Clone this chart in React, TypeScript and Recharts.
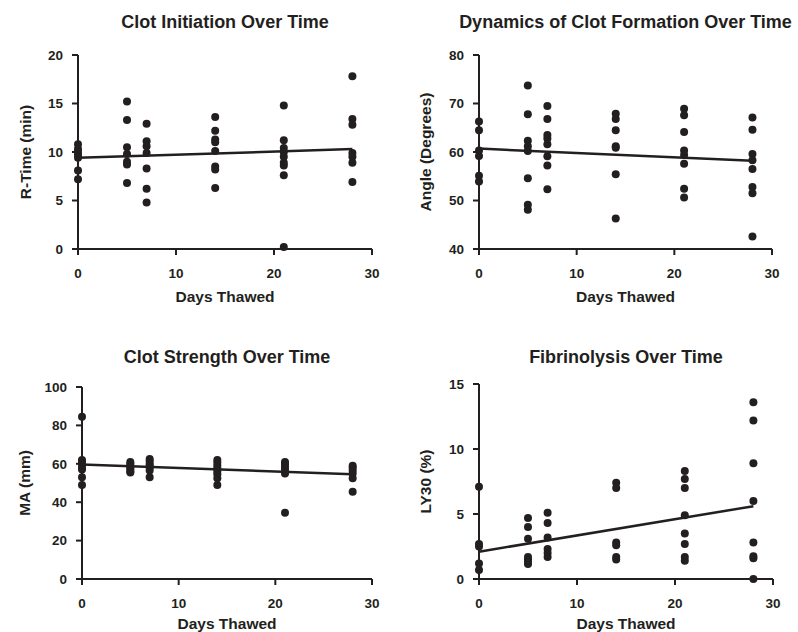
import React from 'react';
import { ScatterChart, Scatter, XAxis, YAxis, ReferenceLine, Label } from 'recharts';

const days = [0, 5, 7, 14, 21, 28];
const xTicks = [0, 10, 20, 30];

const rTimeValues = [
  [10.8, 10.3, 10.0, 9.7, 9.4, 8.1, 7.2],
  [15.2, 13.3, 10.5, 9.8, 9.0, 8.7, 6.8],
  [12.9, 11.1, 10.6, 9.9, 8.3, 6.2, 4.8],
  [13.6, 12.2, 11.3, 11.0, 10.1, 8.5, 8.2, 6.3],
  [14.8, 11.2, 10.4, 10.0, 9.5, 8.9, 8.6, 7.6, 0.2],
  [17.8, 13.4, 12.8, 9.9, 9.5, 8.9, 6.9],
];
const rTimeFit = [9.4, 10.3];
const rTimeTicks = [0, 5, 10, 15, 20];

const angleValues = [
  [66.3, 64.5, 60.3, 59.2, 55.1, 53.9],
  [73.7, 67.8, 62.3, 61.2, 60.2, 54.6, 49.1, 48.1],
  [69.5, 66.8, 63.5, 62.8, 61.6, 59.1, 57.2, 52.3],
  [67.9, 66.8, 64.5, 61.2, 60.9, 55.4, 46.3],
  [68.9, 67.6, 64.1, 60.3, 59.4, 57.6, 52.4, 50.6],
  [67.1, 64.6, 59.6, 58.3, 56.5, 52.8, 51.5, 42.6],
];
const angleFit = [60.7, 58.2];
const angleTicks = [40, 50, 60, 70, 80];

const maValues = [
  [84.5, 62, 61, 59.5, 58, 57, 53, 49],
  [61, 60, 59, 58, 57, 56, 55.5],
  [62.5, 61.5, 60, 59, 58, 56.5, 53],
  [62, 60.5, 59, 57.5, 56, 54.5, 52.5, 49],
  [61, 60, 59, 57.5, 56, 55, 34.5],
  [59, 58, 56.5, 55, 52.5, 45.5],
];
const maFit = [59.7, 54.5];
const maTicks = [0, 20, 40, 60, 80, 100];

const ly30Values = [
  [7.1, 2.7, 2.5, 1.2, 0.7],
  [4.7, 4.0, 3.1, 1.7, 1.5, 1.3, 1.15],
  [5.1, 4.3, 3.2, 2.3, 2.0, 1.7],
  [7.4, 7.0, 2.8, 2.6, 1.7, 1.5],
  [8.3, 7.7, 7.0, 4.9, 3.5, 2.7, 1.7, 1.4],
  [13.6, 12.2, 8.9, 6.0, 2.8, 1.75, 1.6, 0],
];
const ly30Fit = [2.1, 5.6];
const ly30Ticks = [0, 5, 10, 15];

const fitDays = [0, 28];

const INK = '#231f20';
const FONT = '"Liberation Sans", Arial, Helvetica, sans-serif';

function toPoints(values: number[][]) {
  const pts: { x: number; y: number }[] = [];
  values.forEach((vals, i) => vals.forEach((v) => pts.push({ x: days[i], y: v })));
  return pts;
}

const Dot = (props: any) => {
  const { cx, cy } = props;
  if (cx == null || cy == null) return null;
  return <circle cx={cx} cy={cy} r={4} fill={INK} />;
};

type PanelProps = {
  left: number;
  top: number;
  width: number;
  height: number;
  margin: { top: number; right: number; bottom: number; left: number };
  xAxisHeight: number;
  yLabelOffset: number;
  values: number[][];
  fit: number[];
  yTicks: number[];
  yLabel: string;
  title: string;
  titleY: number;
};

function Panel(p: PanelProps) {
  const data = toPoints(p.values);
  const yDomain = [p.yTicks[0], p.yTicks[p.yTicks.length - 1]];
  const tickStyle = { fill: INK, fontSize: 13.5, fontWeight: 700, fontFamily: FONT };
  const plotLeft = p.margin.left + 60;
  const plotRight = p.width - p.margin.right;
  return (
    <div style={{ position: 'absolute', left: p.left, top: p.top, width: p.width, height: p.height }}>
      <ScatterChart width={p.width} height={p.height} margin={p.margin}>
        <XAxis
          type="number"
          dataKey="x"
          domain={[0, 30]}
          ticks={xTicks}
          interval={0}
          height={p.xAxisHeight}
          axisLine={{ stroke: INK, strokeWidth: 2 }}
          tickLine={{ stroke: INK, strokeWidth: 2 }}
          tickSize={6}
          tickMargin={13}
          tick={tickStyle}
        >
          <Label
            value="Days Thawed"
            position="insideBottom"
            offset={0}
            style={{ fill: INK, fontSize: 15.5, fontWeight: 700, fontFamily: FONT }}
          />
        </XAxis>
        <YAxis
          type="number"
          dataKey="y"
          domain={yDomain}
          ticks={p.yTicks}
          interval={0}
          width={60}
          axisLine={{ stroke: INK, strokeWidth: 2 }}
          tickLine={{ stroke: INK, strokeWidth: 2 }}
          tickSize={6}
          tickMargin={9}
          tick={tickStyle}
        >
          <Label
            value={p.yLabel}
            angle={-90}
            position="insideLeft"
            offset={p.yLabelOffset}
            style={{ fill: INK, fontSize: 15.5, fontWeight: 700, fontFamily: FONT, textAnchor: 'middle' }}
          />
        </YAxis>
        <ReferenceLine
          segment={[
            { x: fitDays[0], y: p.fit[0] },
            { x: fitDays[1], y: p.fit[1] },
          ]}
          stroke={INK}
          strokeWidth={2.5}
          ifOverflow="visible"
        />
        <Scatter data={data} shape={<Dot />} isAnimationActive={false} />
      </ScatterChart>
      <svg
        width={p.width}
        height={60}
        style={{ position: 'absolute', left: 0, top: 0, pointerEvents: 'none' }}
      >
        <text
          x={(plotLeft + plotRight) / 2}
          y={p.titleY}
          textAnchor="middle"
          fill={INK}
          style={{ fontSize: 18, fontWeight: 700, fontFamily: FONT }}
        >
          {p.title}
        </text>
      </svg>
    </div>
  );
}

export default function App() {
  return (
    <div style={{ position: 'absolute', left: 0, top: 0, width: 798, height: 632, background: '#fff', overflow: 'hidden' }}>
      <Panel
        left={0}
        top={0}
        width={400}
        height={316}
        margin={{ top: 55, right: 28, bottom: 14, left: 18 }}
        xAxisHeight={53}
        yLabelOffset={7}
        values={rTimeValues}
        fit={rTimeFit}
        yTicks={rTimeTicks}
        yLabel="R-Time (min)"
        title="Clot Initiation Over Time"
        titleY={28}
      />
      <Panel
        left={400}
        top={0}
        width={398}
        height={316}
        margin={{ top: 55, right: 26, bottom: 14, left: 19 }}
        xAxisHeight={53}
        yLabelOffset={6}
        values={angleValues}
        fit={angleFit}
        yTicks={angleTicks}
        yLabel="Angle (Degrees)"
        title="Dynamics of Clot Formation Over Time"
        titleY={28}
      />
      <Panel
        left={0}
        top={316}
        width={400}
        height={316}
        margin={{ top: 71, right: 28, bottom: 3, left: 22 }}
        xAxisHeight={50}
        yLabelOffset={2}
        values={maValues}
        fit={maFit}
        yTicks={maTicks}
        yLabel="MA (mm)"
        title="Clot Strength Over Time"
        titleY={47}
      />
      <Panel
        left={400}
        top={316}
        width={398}
        height={316}
        margin={{ top: 68, right: 25, bottom: 3, left: 19 }}
        xAxisHeight={50}
        yLabelOffset={6}
        values={ly30Values}
        fit={ly30Fit}
        yTicks={ly30Ticks}
        yLabel="LY30 (%)"
        title="Fibrinolysis Over Time"
        titleY={47}
      />
    </div>
  );
}
